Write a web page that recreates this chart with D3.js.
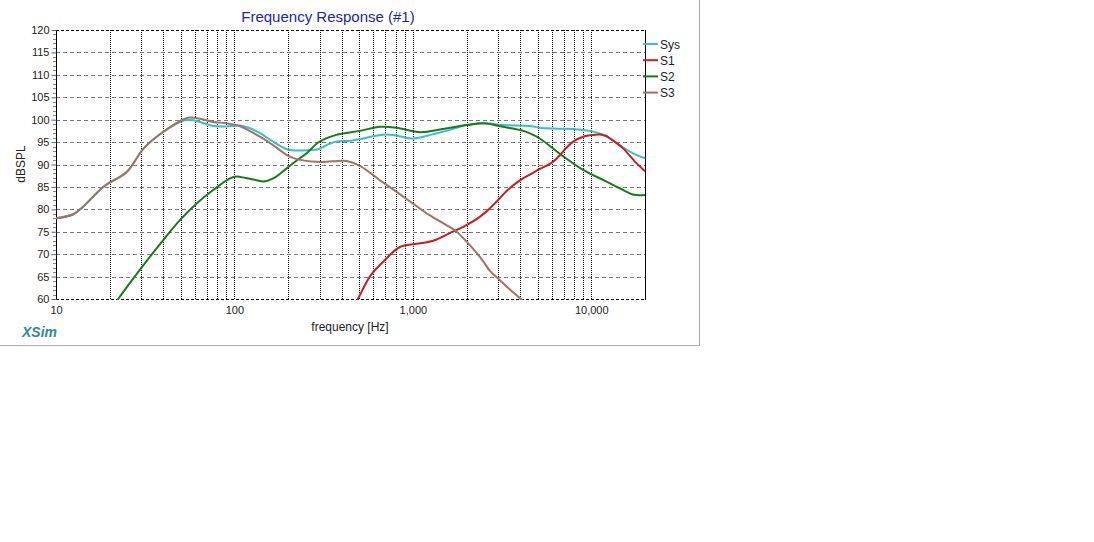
<!DOCTYPE html>
<html>
<head>
<meta charset="utf-8">
<title>Frequency Response (#1)</title>
<script src="https://d3js.org/d3.v7.min.js"></script>
<style>
  body { margin: 0; background: #fff; }
  svg text { font-family: "Liberation Sans", Arial, sans-serif; }
</style>
</head>
<body>
<script>
// ---- data ----
var seriesNames = ["Sys", "S1", "S2", "S3"];
var seriesColors = ["#36c0c8", "#c81e1e", "#1a7a1a", "#a07264"];

var sysFreq = [10, 12.5, 14.2, 18.4, 25, 31, 40, 52, 58, 66, 76, 90, 107, 120, 139, 165, 197, 233, 260, 295, 340, 372, 450, 527, 620, 712, 820, 1000, 1200, 1470, 1700, 2000, 2500, 3200, 4500, 5146, 6400, 7907, 9808, 12170, 14440, 17140, 20000];
var sysDb   = [78, 78.9, 80.6, 85, 88.4, 93.6, 97.3, 99.8, 99.9, 99.3, 98.6, 98.5, 98.7, 98.2, 97.0, 95.1, 93.4, 93.1, 93.2, 93.4, 94.6, 95.1, 95.3, 95.8, 96.4, 96.7, 96.4, 95.8, 96.4, 97.3, 98.0, 98.8, 99.2, 98.8, 98.6, 98.2, 98.0, 97.9, 97.5, 96.4, 94.3, 92.5, 91.4];

var s1Freq = [450, 492, 574, 682, 846, 1049, 1300, 1612, 2000, 2275, 2600, 2944, 3400, 4000, 4600, 5146, 5900, 6383, 6950, 7907, 8995, 9808, 11160, 12170, 12690, 13840, 15070, 17920, 20000];
var s1Db   = [57.5, 60, 65, 68.3, 71.6, 72.3, 73.0, 74.7, 76.5, 77.8, 79.6, 81.7, 84.3, 86.5, 87.9, 89.0, 90.2, 91.3, 92.9, 95.1, 96.2, 96.5, 96.7, 96.3, 95.8, 94.8, 93.6, 90.3, 88.5];

var s2Freq = [19, 22.3, 29.5, 40, 49.5, 61.4, 76, 94.5, 103, 115, 133, 145, 165, 197, 223, 254, 295, 372, 505, 654, 810, 1100, 1470, 2000, 2500, 3200, 4000, 4500, 5146, 6810, 8995, 12170, 14440, 17140, 20000];
var s2Db   = [56, 60, 66.5, 73.2, 77.6, 81.3, 84.3, 86.9, 87.3, 87.0, 86.5, 86.2, 86.9, 89.2, 90.9, 92.5, 94.9, 96.6, 97.5, 98.4, 98.2, 97.2, 97.9, 98.8, 99.2, 98.4, 97.7, 97.0, 95.8, 92.1, 88.8, 86.2, 84.7, 83.3, 83.2];

var s3Freq = [10, 12.5, 14.2, 18.4, 25, 31, 40, 52, 56.4, 66, 76, 90, 107, 120, 139, 165, 197, 223, 289, 330, 380, 426, 505, 654, 811, 1000, 1240, 1540, 1760, 2000, 2275, 2500, 2710, 3000, 3350, 4000, 4400];
var s3Db   = [78, 78.9, 80.6, 85, 88.4, 93.6, 97.3, 100.1, 100.5, 100.1, 99.5, 99.2, 98.6, 97.6, 96.2, 94.3, 92.1, 91.2, 90.6, 90.6, 90.8, 90.8, 89.7, 86.5, 83.9, 81.3, 78.7, 76.5, 75.0, 72.8, 70.3, 68.2, 66.2, 64.6, 62.8, 60.1, 58.5];

var xTickValues = [10, 100, 1000, 10000];
var yTickValues = [60, 65, 70, 75, 80, 85, 90, 95, 100, 105, 110, 115, 120];

var seriesFreq = [sysFreq, s1Freq, s2Freq, s3Freq];
var seriesDb = [sysDb, s1Db, s2Db, s3Db];

// ---- layout ----
var W = 1094, H = 542;
var plot = { left: 56, right: 645, top: 30, bottom: 299 };

var svg = d3.select("body").append("svg")
    .attr("width", W)
    .attr("height", H);

// panel border
svg.append("line").attr("x1", 699.5).attr("x2", 699.5).attr("y1", 0).attr("y2", 346)
    .attr("stroke", "#a8a8a8");
svg.append("line").attr("x1", 0).attr("x2", 700).attr("y1", 345.5).attr("y2", 345.5)
    .attr("stroke", "#a8a8a8");

var x = d3.scaleLog().domain([10, 20000]).range([plot.left, plot.right]);
var y = d3.scaleLinear().domain([60, 120]).range([plot.bottom, plot.top]);

// vertical grid (1-9 per decade)
var vGrid = [];
[10, 100, 1000].forEach(function (dec) {
    for (var k = 2; k <= 9; k++) vGrid.push(dec * k);
});
vGrid.push(1000, 100, 10000);

svg.append("g").selectAll("line")
    .data(vGrid)
    .enter().append("line")
    .attr("x1", function (d) { return Math.round(x(d)) + 0.5; })
    .attr("x2", function (d) { return Math.round(x(d)) + 0.5; })
    .attr("y1", plot.top)
    .attr("y2", plot.bottom)
    .attr("stroke", "#000")
    .attr("stroke-dasharray", "1,1");

// horizontal grid
svg.append("g").selectAll("line")
    .data(yTickValues.filter(function (d) { return d > 60 && d < 120; }))
    .enter().append("line")
    .attr("x1", plot.left)
    .attr("x2", plot.right)
    .attr("y1", function (d) { return Math.round(y(d)) + 0.5; })
    .attr("y2", function (d) { return Math.round(y(d)) + 0.5; })
    .attr("stroke", "#777")
    .attr("stroke-dasharray", "4,3");

// frame
svg.append("line").attr("x1", plot.left).attr("x2", plot.right)
    .attr("y1", plot.top + 0.5).attr("y2", plot.top + 0.5)
    .attr("stroke", "#000").attr("stroke-dasharray", "3,2");
svg.append("line").attr("x1", plot.left).attr("x2", plot.right)
    .attr("y1", plot.bottom + 0.5).attr("y2", plot.bottom + 0.5)
    .attr("stroke", "#000").attr("stroke-dasharray", "3,2");
svg.append("line").attr("x1", plot.left + 0.5).attr("x2", plot.left + 0.5)
    .attr("y1", plot.top).attr("y2", plot.bottom + 1)
    .attr("stroke", "#000");
svg.append("line").attr("x1", plot.right + 0.5).attr("x2", plot.right + 0.5)
    .attr("y1", plot.top).attr("y2", plot.bottom + 1)
    .attr("stroke", "#000");

// y axis
var yAxis = svg.append("g")
    .attr("transform", "translate(" + (plot.left + 0.5) + ",0)")
    .call(d3.axisLeft(y).tickValues(yTickValues).tickSize(5).tickPadding(2));
yAxis.select(".domain").remove();
yAxis.selectAll("text").attr("font-size", "11px").attr("fill", "#222")
    .attr("font-family", "Liberation Sans, Arial, sans-serif");
yAxis.selectAll("line").attr("stroke", "#666");

// minor y ticks every 1 dB
svg.append("g").selectAll("line")
    .data(d3.range(60, 121).filter(function (d) { return d % 5 !== 0; }))
    .enter().append("line")
    .attr("x1", plot.left - 3)
    .attr("x2", plot.left)
    .attr("y1", function (d) { return Math.round(y(d)) + 0.5; })
    .attr("y2", function (d) { return Math.round(y(d)) + 0.5; })
    .attr("stroke", "#888");

// x axis
var xAxis = svg.append("g")
    .attr("transform", "translate(0," + (plot.bottom + 1) + ")")
    .call(d3.axisBottom(x).tickValues(xTickValues).tickSize(0).tickPadding(6)
        .tickFormat(d3.format(",")));
xAxis.select(".domain").remove();
xAxis.selectAll("text").attr("font-size", "11px").attr("fill", "#222")
    .attr("font-family", "Liberation Sans, Arial, sans-serif");

// curves
svg.append("clipPath").attr("id", "plotclip")
    .append("rect")
    .attr("x", plot.left).attr("y", plot.top)
    .attr("width", plot.right - plot.left + 1)
    .attr("height", plot.bottom - plot.top + 1);

var line = d3.line()
    .x(function (d) { return x(d[0]); })
    .y(function (d) { return y(d[1]); })
    .curve(d3.curveCatmullRom.alpha(0.5));

var curves = svg.append("g").attr("clip-path", "url(#plotclip)");
// Sys underneath, then S2, S1, S3
[0, 2, 1, 3].forEach(function (i) {
    var pts = d3.zip(seriesFreq[i], seriesDb[i]);
    curves.append("path")
        .datum(pts)
        .attr("fill", "none")
        .attr("stroke", seriesColors[i])
        .attr("stroke-width", 2)
        .attr("d", line);
});

// legend
var legend = svg.append("g").selectAll("g")
    .data(seriesNames)
    .enter().append("g")
    .attr("transform", function (d, i) { return "translate(643," + (44 + i * 16.2) + ")"; });
legend.append("line")
    .attr("x1", 0).attr("x2", 15)
    .attr("stroke", function (d, i) { return seriesColors[i]; })
    .attr("stroke-width", 2);
legend.append("text")
    .attr("x", 17).attr("y", 4.5)
    .attr("font-size", "12px")
    .attr("fill", "#222")
    .text(function (d) { return d; });

// titles
svg.append("text")
    .attr("x", 328).attr("y", 22)
    .attr("text-anchor", "middle")
    .attr("font-size", "15px")
    .attr("fill", "#2323b8")
    .text("Frequency Response (#1)");

svg.append("text")
    .attr("transform", "translate(25,164) rotate(-90)")
    .attr("text-anchor", "middle")
    .attr("font-size", "12px")
    .attr("fill", "#222")
    .text("dBSPL");

svg.append("text")
    .attr("x", 350).attr("y", 331)
    .attr("text-anchor", "middle")
    .attr("font-size", "12px")
    .attr("fill", "#222")
    .text("frequency [Hz]");

svg.append("text")
    .attr("x", 22).attr("y", 337)
    .attr("font-size", "14px")
    .attr("font-weight", "bold")
    .attr("font-style", "italic")
    .attr("fill", "#2f8c96")
    .text("XSim");
</script>
</body>
</html>
